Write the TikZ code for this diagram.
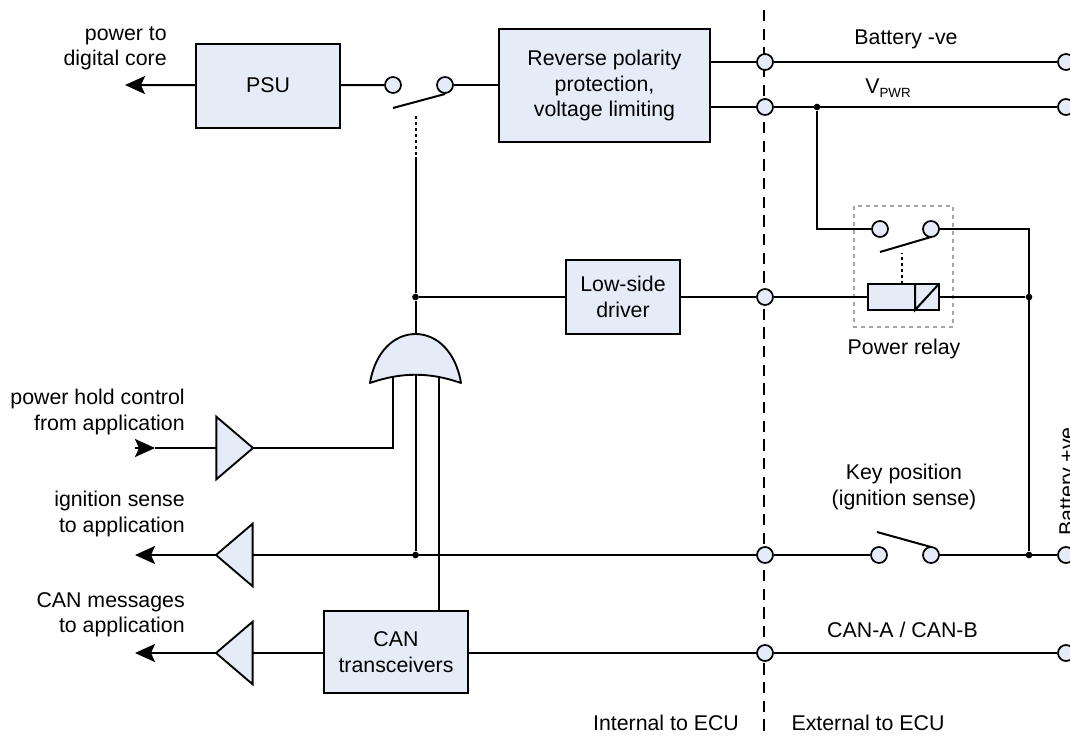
\documentclass[tikz,border=0pt]{standalone}
\usepackage{fontspec}
\setmainfont{Liberation Sans}
\usepackage{amsmath}
\usetikzlibrary{arrows.meta}
\usetikzlibrary{shapes.geometric}
\definecolor{boxfill}{RGB}{230,236,247}
\tikzset{
	wire/.style={line width=1.5pt},
	txt/.style={font=\fontsize{16pt}{19pt}\selectfont},
	blockbox/.style={draw,line width=1.5pt,fill=boxfill,align=center,inner sep=0pt,outer sep=0pt,txt},
	pin/.style={circle,draw,line width=1.3pt,fill=boxfill,minimum size=12pt,inner sep=0pt},
	dotnode/.style={circle,fill=black,minimum size=5pt,inner sep=0pt},
	lbl/.style={align=center,inner sep=0pt,txt},
	lblr/.style={align=right,anchor=east,inner sep=0pt,txt},
	bigarrow/.style={-{Stealth[length=15pt,width=13.5pt,inset=3pt]},line width=1.5pt},
	buffer/.style={isosceles triangle,isosceles triangle apex angle=81,draw,line width=1.4pt,fill=boxfill,minimum height=27.5pt,inner sep=0pt,outer sep=0pt,anchor=apex},
	dotwire/.style={wire,dash pattern=on 2.5pt off 2pt},
}
\begin{document}
\begin{tikzpicture}[x=0.75pt,y=-0.75pt]
	\useasboundingbox (0,0) rectangle (1070,736);
	\node[blockbox,minimum width=108pt,minimum height=63pt] (psu) at (268,85.5) {PSU};
	\node[blockbox,minimum width=158pt,minimum height=85pt] (rev) at (604.5,85.5) {Reverse polarity\\protection,\\voltage limiting};
	\node[blockbox,minimum width=85.5pt,minimum height=55pt] (drv) at (623,297) {Low-side\\driver};
	\node[blockbox,minimum width=108pt,minimum height=62pt] (can) at (396,652) {CAN\\transceivers};
	\draw[gray!70,dashed,line width=0.8pt] (854,206) rectangle (953,327);
	\draw[line width=1.2pt,dash pattern=on 8.5pt off 5.5pt] (764,10) coordinate (bndtop) -- (764,736) coordinate (bndbot);
	\foreach \y/\n in {62/a,107/b,297/c,555/d,653/e}{
		\node[pin] (in\n) at (765,\y) {};
	}
	\foreach \y/\n in {62/a,107/b,555/d,653/e}{
		\node[pin] (out\n) at (1066,\y) {};
	}
	\node[pin] (swa) at (393,85) {};
	\node[pin] (swb) at (445,85) {};
	\node[pin] (rla) at (880,229) {};
	\node[pin] (rlb) at (931,229) {};
	\node[pin] (kya) at (879,555) {};
	\node[pin] (kyb) at (931,555) {};
	\node[dotnode] (jb) at (817,107) {};
	\node[dotnode] (jc) at (415.5,297) {};
	\node[dotnode] (jr) at (1029,297) {};
	\node[dotnode] (jk) at (1029,555) {};
	\node[dotnode] (js) at (415.5,555) {};
	\draw[wire] (psu) -- (swa);
	\draw[wire] (swb) -- (swb-|rev.west);
	\draw[wire] (ina-|rev.east) -- (ina);
	\draw[wire] (inb-|rev.east) -- (inb);
	\draw[wire] (ina) -- (outa);
	\draw[wire] (inb) -- (outb);
	\draw[wire] (jc) -- (drv);
	\draw[wire] (drv) -- (inc);
	\draw[wire] (jb) |- (rla);
	\draw[wire] (rlb) -| (jk);
	\draw[wire] (ind) -- (kya);
	\draw[wire] (kyb) -- (outd);
	\draw[wire] (ine-|can.east) -- (ine);
	\draw[wire] (ine) -- (oute);
	\coordinate (aa) at (393,108);
	\coordinate (ab) at (445,94);
	\draw[wire] (aa) -- (ab);
	\coordinate (ba) at (880,252);
	\coordinate (bb) at (931,237);
	\draw[wire] (ba) -- (bb);
	\coordinate (ca) at (877,532);
	\coordinate (cb) at (931,547);
	\draw[wire] (ca) -- (cb);
	\coordinate (da) at (415.5,116);
	\coordinate (db) at (415.5,157);
	\draw[dotwire] (da) -- (db);
	\draw[wire] (db) -- (jc);
	\draw[wire] (inc) -- (jr);
	\node[draw,line width=1.5pt,fill=boxfill,minimum width=53.5pt,minimum height=20pt,inner sep=0pt,outer sep=0pt] (coil) at (903.5,297) {};
	\coordinate (cm) at (915,284);
	\coordinate (cn) at (915,310);
	\draw[line width=1.5pt] (cm) -- (cn) -- (coil.north east);
	\coordinate (ce) at (901.5,284);
	\coordinate (cf) at (901.5,253);
	\draw[dotwire] (ce) -- (cf);
	\draw[line width=1.4pt,fill=boxfill,line join=round] (370,383) coordinate (gl) .. controls (375,352) and (394,334) .. (415.5,334) coordinate (gt) .. controls (437,334) and (456,352) .. (461,383) coordinate (gr) .. controls (430,372) and (401,372) .. cycle;
	\draw[wire] (jc) -- (gt);
	\coordinate (ga) at (393,376);
	\coordinate (gb) at (415.5,375);
	\coordinate (gc) at (438.5,376);
	\draw[wire] (gb) -- (js);
	\draw[wire] (gc) -- (gc|-can.north);
	\node[buffer,shape border rotate=0] (bufa) at (253,448) {};
	\node[buffer,shape border rotate=180] (bufb) at (216,555) {};
	\node[buffer,shape border rotate=180] (bufc) at (216,653) {};
	\draw[wire] (bufa.apex) -| (ga);
	\draw[wire] (bufb.east) -- (ind);
	\draw[wire] (bufc.east) -- (can.west|-bufc.east);
	\coordinate (pa) at (125,85);
	\coordinate (pb) at (155,448);
	\coordinate (pc) at (135,448);
	\coordinate (pd) at (135,555);
	\coordinate (pe) at (135,653);
	\draw[bigarrow] (psu) -- (pa);
	\draw[bigarrow] (pc) -- (pb);
	\draw[wire] (pb) -- (bufa.west);
	\draw[bigarrow] (bufb.apex) -- (pd);
	\draw[bigarrow] (bufc.apex) -- (pe);
	\node[lblr] (lpsu) at (167,48.5) {power to\\digital core};
	\node[lblr] (lhold) at (185,412) {power hold control\\from application};
	\node[lblr] (lign) at (185,514) {ignition sense\\to application};
	\node[lblr] (lcan) at (185,614.5) {CAN messages\\to application};
	\node[lbl] (lbat) at (906,39) {Battery -ve};
	\node[lbl] (lpwr) at (888,88) {V\raisebox{-2.5pt}{\fontsize{10pt}{10pt}\selectfont PWR}};
	\node[lbl] (lrly) at (904,349) {Power relay};
	\node[lbl] (lkey) at (904,487) {Key position\\(ignition sense)};
	\node[lbl] (lcanb) at (902.5,629.5) {CAN-A / CAN-B};
	\node[lbl,rotate=90,anchor=west] (lbatp) at (1069,536) {Battery +ve};
	\node[lbl] (lint) at (666,723) {Internal to ECU};
	\node[lbl] (lext) at (868,723) {External to ECU};
\end{tikzpicture}
\end{document}
